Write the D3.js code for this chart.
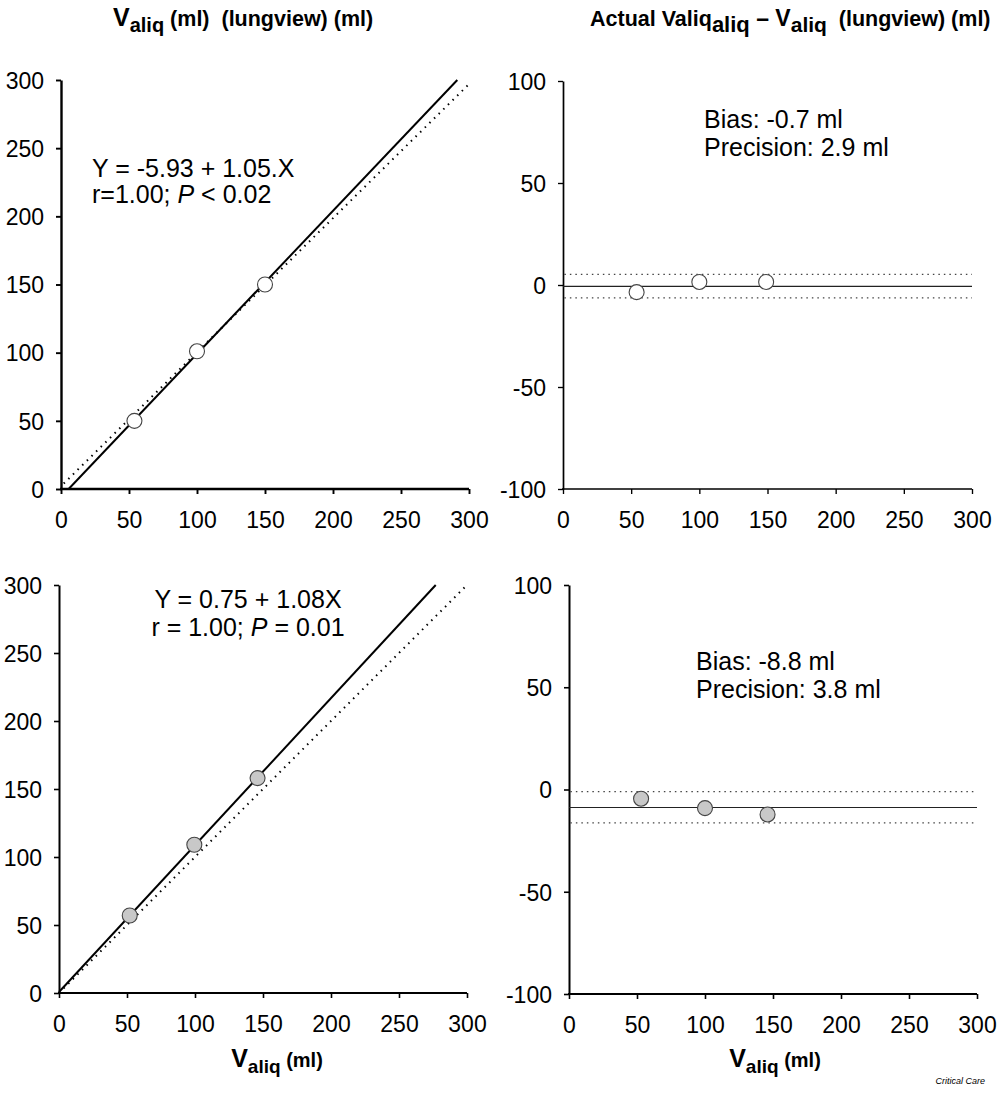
<!DOCTYPE html>
<html><head><meta charset="utf-8">
<script src="https://cdn.jsdelivr.net/npm/d3@7"></script>
<style>
html,body{margin:0;padding:0;background:#fff;}
text{font-family:"Liberation Sans",Arial,Helvetica,sans-serif;fill:#000;}
</style></head>
<body>
<svg id="chart" width="1000" height="1093"></svg>
<script>
// ---------- data ----------
const xTicks = [0, 50, 100, 150, 200, 250, 300];
const yTicksVol = [0, 50, 100, 150, 200, 250, 300];
const yTicksDiff = [-100, -50, 0, 50, 100];

// top-left: V_aliq (lungview) vs V_aliq, white points
const tlX = [54, 100, 150];
const tlY = [50, 101, 150];
const tlRegLine = [[5.6, 0], [291.4, 300]];      // Y = -5.93 + 1.05X
const tlIdentity = [[2, 4], [299, 296]];

// top-right: difference, white points
const trX = [54, 100, 149];
const trY = [-3.5, 1.5, 1.5];
const trBias = -0.7;
const trLimits = [5.2, -6.3];

// bottom-left: grey points
const blX = [52, 99.5, 146];
const blY = [57, 109, 158];
const blRegLine = [[0, 0.75], [277, 300]];       // Y = 0.75 + 1.08X
const blIdentity = [[0, 0], [300, 300]];

// bottom-right: difference, grey points
const brX = [53, 100, 146];
const brY = [-4.5, -9.1, -12.2];
const brBias = -8.8;
const brLimits = [-1.0, -16.3];

// ---------- drawing ----------
const svg = d3.select("#chart");

function panel(opts) {
  const x = d3.scaleLinear().domain([0, 300]).range([opts.x0, opts.x1]);
  const y = d3.scaleLinear().domain(opts.yDomain).range([opts.yBottom, opts.yTop]);
  const g = svg.append("g");
  const fmt = d => String(d);
  const xa = g.append("g").attr("transform", `translate(0,${opts.yBottom})`)
    .call(d3.axisBottom(x).tickValues(xTicks).tickFormat(fmt).tickSize(5).tickPadding(18).tickSizeOuter(0));
  const ya = g.append("g").attr("transform", `translate(${opts.x0},0)`)
    .call(d3.axisLeft(y).tickValues(opts.yTicks).tickFormat(fmt).tickSize(5).tickPadding(12).tickSizeOuter(0));
  [xa, ya].forEach(a => {
    a.selectAll("path.domain").attr("stroke", "#000").attr("stroke-width", opts.axisW);
    a.selectAll(".tick line").attr("stroke", "#000").attr("stroke-width", opts.axisW * 0.8);
    a.selectAll(".tick text").attr("font-size", 23).attr("font-family", '"Liberation Sans",Arial,sans-serif').attr("fill", "#000");
  });
  xa.select("path.domain").attr("d", `M${opts.x0 - 1},0H${opts.x1}`);
  ya.selectAll(".tick text").attr("dy", "0.36em");
  return {x, y, g};
}

const line = (x, y) => d3.line().x(d => x(d[0])).y(d => y(d[1]));

function drawPoints(p, xs, ys, fill) {
  p.g.append("g").selectAll("circle").data(xs.map((v, i) => [v, ys[i]])).join("circle")
    .attr("cx", d => p.x(d[0])).attr("cy", d => p.y(d[1])).attr("r", 7.5)
    .attr("fill", fill).attr("stroke", "#444").attr("stroke-width", 1.1);
}

// Top-left
const tl = panel({x0: 61, x1: 469, yBottom: 489, yTop: 80, yDomain: [0, 300], yTicks: yTicksVol, axisW: 2.4});
tl.g.append("path").attr("d", line(tl.x, tl.y)(tlIdentity)).attr("fill", "none")
  .attr("stroke", "#000").attr("stroke-width", 2).attr("stroke-dasharray", "1.5,5");
tl.g.append("path").attr("d", line(tl.x, tl.y)(tlRegLine)).attr("fill", "none")
  .attr("stroke", "#000").attr("stroke-width", 2);
drawPoints(tl, tlX, tlY, "#fff");

// Top-right
const tr = panel({x0: 563, x1: 972, yBottom: 489, yTop: 81, yDomain: [-100, 100], yTicks: yTicksDiff, axisW: 1.7});
trLimits.forEach(v => tr.g.append("path").attr("d", line(tr.x, tr.y)([[1, v], [300, v]]))
  .attr("stroke", "#444").attr("stroke-width", 1.3).attr("stroke-dasharray", "1.5,4").attr("fill", "none"));
tr.g.append("path").attr("d", line(tr.x, tr.y)([[0, trBias], [300, trBias]]))
  .attr("stroke", "#222").attr("stroke-width", 1.2).attr("fill", "none");
drawPoints(tr, trX, trY, "#fff");

// Bottom-left
const bl = panel({x0: 59, x1: 467, yBottom: 993, yTop: 585, yDomain: [0, 300], yTicks: yTicksVol, axisW: 2});
bl.g.append("path").attr("d", line(bl.x, bl.y)(blIdentity)).attr("fill", "none")
  .attr("stroke", "#000").attr("stroke-width", 2).attr("stroke-dasharray", "1.5,5");
bl.g.append("path").attr("d", line(bl.x, bl.y)(blRegLine)).attr("fill", "none")
  .attr("stroke", "#000").attr("stroke-width", 2);
drawPoints(bl, blX, blY, "#c8c8c8");

// Bottom-right
const br = panel({x0: 569, x1: 977, yBottom: 994, yTop: 585, yDomain: [-100, 100], yTicks: yTicksDiff, axisW: 2});
brLimits.forEach(v => br.g.append("path").attr("d", line(br.x, br.y)([[1, v], [300, v]]))
  .attr("stroke", "#444").attr("stroke-width", 1.3).attr("stroke-dasharray", "1.5,4").attr("fill", "none"));
br.g.append("path").attr("d", line(br.x, br.y)([[0, brBias], [300, brBias]]))
  .attr("stroke", "#222").attr("stroke-width", 1.2).attr("fill", "none");
drawPoints(br, brX, brY, "#c8c8c8");

// ---------- annotations ----------
function twoLines(x, y1, y2, l1, l2parts, size, anchor) {
  svg.append("text").attr("x", x).attr("y", y1).attr("font-size", size)
    .attr("text-anchor", anchor || "start").text(l1);
  const t2 = svg.append("text").attr("x", x).attr("y", y2).attr("font-size", size)
    .attr("text-anchor", anchor || "start").style("white-space", "pre");
  l2parts.forEach(p => t2.append("tspan").attr("font-style", p.i ? "italic" : "normal").text(p.t));
}
twoLines(92, 177, 203, "Y = -5.93 + 1.05.X", [{t: "r=1.00; "}, {t: "P", i: true}, {t: " < 0.02"}], 25);
twoLines(248, 608, 636, "Y = 0.75 + 1.08X", [{t: "r = 1.00; "}, {t: "P", i: true}, {t: " = 0.01"}], 25, "middle");
twoLines(704, 128, 156, "Bias: -0.7 ml", [{t: "Precision: 2.9 ml"}], 25);
twoLines(696, 670, 698, "Bias: -8.8 ml", [{t: "Precision: 3.8 ml"}], 25);

// ---------- titles ----------
function richTitle(x, y, parts, anchor) {
  const t = svg.append("text").attr("x", x).attr("y", y).attr("font-weight", "bold")
    .attr("text-anchor", anchor || "start").style("white-space", "pre");
  parts.forEach(p => {
    const s = t.append("tspan").attr("font-size", p.s).text(p.t);
    if (p.dy) s.attr("dy", p.dy);
  });
  return t;
}
richTitle(113, 26, [
  {t: "V", s: 25}, {t: "aliq", s: 20, dy: 6}, {t: " (ml)  (lungview) (ml)", s: 21.5, dy: -6}
]);
richTitle(590, 26, [
  {t: "Actual Valiq", s: 21.5}, {t: "aliq", s: 22, dy: 6}, {t: " \u2013 V", s: 23, dy: -6},
  {t: "aliq", s: 21, dy: 6}, {t: "  (lungview) (ml)", s: 21.5, dy: -6}
]);
richTitle(277, 1067, [
  {t: "V", s: 25}, {t: "aliq", s: 19, dy: 6}, {t: " (ml)", s: 20, dy: -6}
], "middle");
richTitle(775, 1067, [
  {t: "V", s: 25}, {t: "aliq", s: 19, dy: 6}, {t: " (ml)", s: 20, dy: -6}
], "middle");

svg.append("text").attr("x", 985).attr("y", 1084).attr("font-size", 9).attr("font-style", "italic")
  .attr("text-anchor", "end").attr("fill", "#222").text("Critical Care");
</script>
</body></html>
